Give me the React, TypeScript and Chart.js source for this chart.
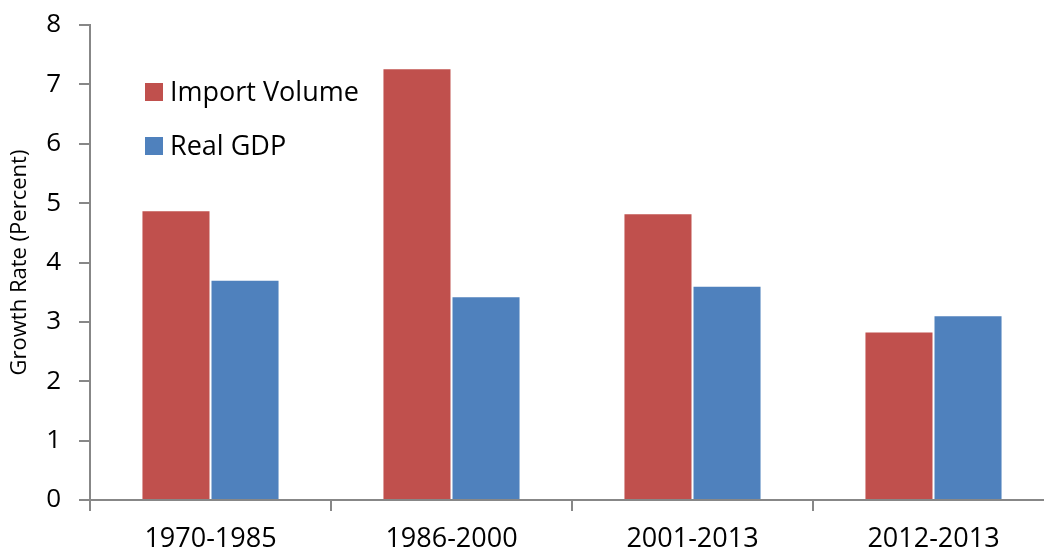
import React, { useEffect, useRef } from "react";
import { Chart, registerables } from "chart.js";

Chart.register(...registerables);

const categories = ["1970-1985", "1986-2000", "2001-2013", "2012-2013"];
const importVolume = [4.88, 7.27, 4.83, 2.84];
const realGDP = [3.71, 3.43, 3.61, 3.11];
const seriesNames = ["Import Volume", "Real GDP"];
const yTicks = [0, 1, 2, 3, 4, 5, 6, 7, 8];
const yTitle = "Growth Rate (Percent)";

const RED = "#C0504D";
const BLUE = "#4F81BD";
const AXIS = "#878787";
const FONT = "'Open Sans', sans-serif";

const legendPlugin = {
  id: "insideLegend",
  afterDraw(chart: any) {
    const ctx = chart.ctx;
    ctx.save();
    ctx.font = `27px ${FONT}`;
    ctx.textBaseline = "middle";
    ctx.textAlign = "left";
    chart.data.datasets.forEach((ds: any, i: number) => {
      const cy = 92 + i * 54;
      ctx.fillStyle = ds.backgroundColor;
      ctx.fillRect(145, cy - 9, 18, 18);
      ctx.fillStyle = "#000";
      ctx.fillText(ds.label, 170, cy + 1);
    });
    ctx.restore();
  },
};

export default function App() {
  const ref = useRef<HTMLCanvasElement | null>(null);

  useEffect(() => {
    if (!ref.current) return;
    const chart = new Chart(ref.current, {
      type: "bar",
      data: {
        labels: categories,
        datasets: [
          {
            label: seriesNames[0],
            data: importVolume,
            backgroundColor: RED,
            borderColor: "rgba(255,255,255,0.25)",
            borderWidth: 1,
            categoryPercentage: 0.573,
            barPercentage: 1,
          },
          {
            label: seriesNames[1],
            data: realGDP,
            backgroundColor: BLUE,
            borderColor: "rgba(255,255,255,0.25)",
            borderWidth: 1,
            categoryPercentage: 0.573,
            barPercentage: 1,
          },
        ],
      },
      options: {
        responsive: false,
        animation: false,
        devicePixelRatio: 1,
        layout: { padding: { left: 0, top: 25, right: 6, bottom: 0 } },
        plugins: {
          legend: { display: false },
          tooltip: { enabled: false },
        },
        scales: {
          x: {
            offset: true,
            grid: {
              offset: true,
              drawOnChartArea: false,
              drawTicks: true,
              tickLength: 11,
              tickColor: AXIS,
              lineWidth: 2,
            },
            border: { display: true, color: AXIS, width: 2 },
            ticks: {
              color: "#000",
              font: { family: FONT, size: 27 },
              padding: 12,
              maxRotation: 0,
            },
            afterFit(scale: any) {
              scale.height = 54;
              scale.paddingLeft = 0;
              scale.paddingRight = 0;
            },
          },
          y: {
            min: 0,
            max: 8,
            afterBuildTicks(scale: any) {
              scale.ticks = yTicks.map((v) => ({ value: v }));
            },
            grid: {
              drawOnChartArea: false,
              drawTicks: true,
              tickLength: 11,
              tickColor: AXIS,
              lineWidth: 2,
            },
            border: { display: true, color: AXIS, width: 2 },
            ticks: {
              color: "#000",
              font: { family: FONT, size: 26 },
              padding: 18,
            },
            title: {
              display: true,
              text: yTitle,
              color: "#000",
              font: { family: FONT, size: 22 },
              padding: { top: 7, bottom: 0 },
            },
            afterFit(scale: any) {
              scale.width = 90;
              scale.paddingTop = 0;
              scale.paddingBottom = 0;
            },
          },
        },
      },
      plugins: [legendPlugin],
    });
    return () => chart.destroy();
  }, []);

  return (
    <div
      style={{
        position: "absolute",
        left: 0,
        top: 0,
        width: 1044,
        height: 554,
        overflow: "hidden",
        background: "#fff",
      }}
    >
      <canvas
        ref={ref}
        width={1060}
        height={554}
        style={{ display: "block", width: 1060, height: 554 }}
      />
    </div>
  );
}
